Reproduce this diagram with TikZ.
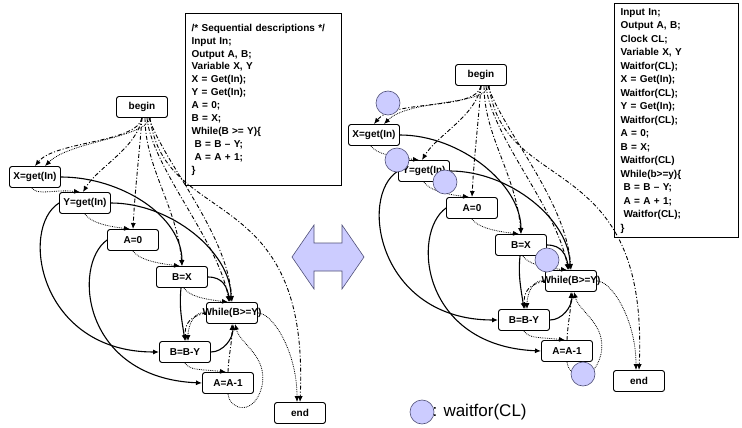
\documentclass[tikz,border=0pt]{standalone}
\usepackage{fontspec}
\setmainfont{Liberation Sans}
\usetikzlibrary{arrows.meta, shapes}
\definecolor{clkfill}{RGB}{204,204,255}
\definecolor{clkline}{RGB}{80,80,120}

\begin{document}
\begin{tikzpicture}[
        x=1pt, y=-1pt,
        op/.style={draw, line width=0.9pt, rounded corners=2.5pt, minimum width=51pt, minimum height=21pt, inner sep=0pt, font=\bfseries\fontsize{10}{12}\selectfont},
        code/.style={draw, line width=1.2pt, anchor=north west, align=left, inner xsep=6pt, inner ysep=3pt, font=\bfseries\fontsize{10}{12.9}\selectfont},
        flow/.style={line width=1.1pt, -{Latex[length=6pt,width=5pt]}},
        ctrl/.style={line width=0.9pt, dash pattern=on 4pt off 2pt on 1pt off 2pt, -{Latex[length=6pt,width=5pt]}},
        dep/.style={line width=0.8pt, dash pattern=on 0.8pt off 1pt, -{Latex[length=6pt,width=5pt]}},
        clk/.style={circle, draw=clkline, fill=clkfill, minimum size=24pt, inner sep=0pt, line width=0.6pt},
    ]
    \useasboundingbox (0,0) rectangle (742,428);

    % Code
    \node[code, text width=144pt, minimum height=172pt] (seq) at (185,13) {/* Sequential descriptions */\\Input In;\\Output A, B;\\Variable X, Y\\X = Get(In);\\Y = Get(In);\\A = 0;\\B = X;\\While(B >= Y)\{\\\hspace*{3pt}B = B – Y;\\\hspace*{3pt}A = A + 1;\\\}};
    \node[code, text width=112pt, minimum height=234pt, font=\bfseries\fontsize{10}{13.5}\selectfont] (clkd) at (614,3) {Input In;\\Output A, B;\\Clock CL;\\Variable X, Y\\Waitfor(CL);\\X = Get(In);\\Waitfor(CL);\\Y = Get(In);\\Waitfor(CL);\\A = 0;\\B = X;\\Waitfor(CL)\\While(b>=y)\{\\\hspace*{3pt}B = B – Y;\\\hspace*{3pt}A = A + 1;\\\hspace*{3pt}Waitfor(CL);\\\}};

    % Both graphs
    \foreach \g/\dx/\dy/\xo in {l/0/0/0, r/339/-32/-10}{
        \begin{scope}[shift={(\dx,\dy)}]
            \node[op] (\g-begin) at (142,107) {begin};
            \node[op] (\g-x) at (35,177+\xo) {X=get(In)};
            \node[op] (\g-y) at (85,203) {Y=get(In)};
            \node[op] (\g-a0) at (133,240) {A=0};
            \node[op] (\g-bx) at (182,277) {B=X};
            \node[op] (\g-w) at (232,313) {\makebox[48pt]{While(B>=Y)}};
            \node[op] (\g-bby) at (185,352) {B=B-Y};
            \node[op] (\g-aa) at (228,383) {A=A-1};
            \node[op] (\g-end) at (300,413) {end};
        \end{scope}

        % control from begin
        \draw[ctrl] (\g-begin.south) .. controls +(-5,25) and +(20,-25) .. (\g-x.north);
        \draw[dep] ([xshift=8pt]\g-begin.south) .. controls +(-5,20) and +(25,-25) .. ([xshift=10pt]\g-x.north);
        \draw[ctrl] (\g-begin.south) .. controls +(-5,30) and +(15,-25) .. ([xshift=-2pt]\g-y.north);
        \draw[ctrl] (\g-begin.south) .. controls +(-3,40) and +(2,-40) .. (\g-a0.north);
        \draw[ctrl] ([xshift=3pt]\g-begin.south) .. controls +(0,50) and +(-5,-60) .. (\g-bx.north);
        \draw[ctrl] ([xshift=5pt]\g-begin.south) .. controls +(5,50) and +(-10,-60) .. ([xshift=-3pt]\g-w.north);
        \draw[ctrl] ([xshift=7pt]\g-begin.south) .. controls +(15,45) and +(-5,-70) .. (\g-w.north);
        \draw[ctrl] ([xshift=8pt]\g-begin.south) .. controls +(15,112) and +(10,-222) .. (\g-end.north);

        % dotted dependencies
        \draw[dep] ([xshift=-3pt]\g-x.south) .. controls +(5,8) and +(-25,-3) .. ([xshift=-5pt]\g-y.north);
        \draw[dep] (\g-y.south) .. controls +(5,8) and +(-25,-3) .. ([xshift=-3pt]\g-a0.north);
        \draw[dep] (\g-a0.south) .. controls +(5,8) and +(-25,-3) .. ([xshift=-2pt]\g-bx.north);
        \draw[dep] ([xshift=2pt]\g-bx.south) .. controls +(5,8) and +(-25,-3) .. ([xshift=-4pt]\g-w.north);
        \draw[dep] (\g-bby.south) .. controls +(5,8) and +(-25,-3) .. ([xshift=-2pt]\g-aa.north);
        \draw[dep] (\g-aa.south) .. controls +(2,17) and +(-7,30) .. ++(34,-8) .. controls +(6,-30) and +(5,20) .. ([xshift=3pt]\g-w.south);
        \draw[dep] (\g-w.east) .. controls +(15,0) and +(0,-50) .. ([xshift=-3pt]\g-end.north);
        \draw[dep] (\g-w.west) .. controls +(-12,-3) and +(0,-15) .. ([xshift=3pt]\g-bby.north);
        \draw[ctrl] (\g-w.west) .. controls +(-15,3) and +(-2,-18) .. ([xshift=1pt]\g-bby.north);
        \draw[ctrl] (\g-aa.north) .. controls +(1,-20) and +(0,20) .. (\g-w.south);

        % solid data flow
        \draw[flow] (\g-x.east) .. controls +(60,0) and +(0,-50) .. (\g-bx.north);
        \draw[flow] (\g-y.east) .. controls +(60,0) and +(0,-50) .. ([xshift=-1pt]\g-w.north);
        \draw[flow] (\g-y.west) .. controls +(-40,25) and +(-120,0) .. (\g-bby.west);
        \draw[flow] (\g-a0.west) .. controls +(-35,25) and +(-120,-5) .. (\g-aa.west);
        \draw[flow] (\g-bx.east) .. controls +(15,0) and +(-3,-15) .. ([xshift=-2pt]\g-w.north);
        \draw[flow] ([xshift=-1pt]\g-bx.south) .. controls +(-2,20) and +(-3,-20) .. (\g-bby.north);
        \draw[flow] (\g-bby.east) .. controls +(12,0) and +(0,15) .. ([xshift=1pt]\g-w.south);
    }

    % Double arrow
    \draw[clkline, fill=clkfill, line width=0.6pt] (292,257) -- (314,225) -- (314,243) -- (342,243) -- (342,225) -- (364,257) -- (342,289) -- (342,271) -- (314,271) -- (314,289) -- cycle;

    % Clock waits
    \node[clk] (c1) at (388,103) {};
    \node[clk] (c2) at (397,160) {};
    \node[clk] (c3) at (445,182) {};
    \node[clk] (c4) at (547,260) {};
    \node[clk] (c5) at (583,374) {};

    % Legend
    \node[clk] (key) at (422,412) {};
    \node[anchor=west, inner sep=0pt, font=\fontsize{17}{20}\selectfont] (keytext) at ([xshift=-2pt]key.east) {: waitfor(CL)};
\end{tikzpicture}
\end{document}
